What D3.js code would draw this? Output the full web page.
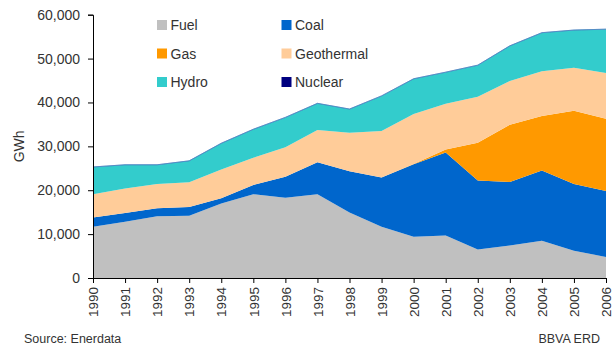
<!DOCTYPE html>
<html>
<head>
<meta charset="utf-8">
<script src="https://cdn.jsdelivr.net/npm/d3@7"></script>
<style>
  html, body { margin: 0; padding: 0; background: #fff; }
  svg { display: block; font-family: "Liberation Sans", Arial, sans-serif; }
</style>
</head>
<body>
<svg id="chart" width="613" height="345"></svg>
<script>
// Electricity generation by source, GWh
const years      = [1990, 1991, 1992, 1993, 1994, 1995, 1996, 1997, 1998, 1999, 2000, 2001, 2002, 2003, 2004, 2005, 2006];
const fuel       = [11700, 12800, 14100, 14200, 17000, 19100, 18300, 19100, 14900, 11700, 9400, 9700, 6500, 7400, 8500, 6200, 4800];
const coal       = [2100, 2000, 1800, 2000, 1200, 2100, 4800, 7300, 9400, 11200, 16500, 18900, 15700, 14500, 16000, 15200, 15000];
const gas        = [0, 0, 0, 0, 0, 0, 0, 0, 0, 0, 100, 700, 8600, 13000, 12400, 16700, 16500];
const geothermal = [5300, 5600, 5500, 5600, 6500, 6200, 6700, 7300, 8800, 10600, 11400, 10400, 10500, 10000, 10200, 9800, 10400];
const hydro      = [6200, 5400, 4400, 4900, 6000, 6500, 6800, 6100, 5400, 8000, 8000, 7200, 7200, 8000, 8800, 8600, 10000];
const nuclear    = [0, 0, 0, 0, 0, 0, 0, 0, 0, 0, 0, 0, 0, 0, 0, 0, 0];

const yTicks = [0, 10000, 20000, 30000, 40000, 50000, 60000];

const seriesKeys = ["Fuel", "Coal", "Gas", "Geothermal", "Hydro", "Nuclear"];
const seriesValues = [fuel, coal, gas, geothermal, hydro, nuclear];
const colors = {
  Fuel: "#c0c0c0",
  Coal: "#0066cc",
  Gas: "#ff9900",
  Geothermal: "#ffcc99",
  Hydro: "#33cccc",
  Nuclear: "#000080"
};

const rows = years.map((yr, i) => {
  const r = { year: yr };
  seriesKeys.forEach((k, j) => { r[k] = seriesValues[j][i]; });
  return r;
});

const svg = d3.select("#chart");
const margin = { left: 93, right: 7, top: 14.7, bottom: 67 };
const W = 613, H = 345;

const x = d3.scaleLinear()
  .domain([years[0], years[years.length - 1]])
  .range([margin.left, W - margin.right]);
const y = d3.scaleLinear()
  .domain([0, 60000])
  .range([H - margin.bottom, margin.top]);

const stacked = d3.stack().keys(seriesKeys)(rows);

const area = d3.area()
  .x(d => x(d.data.year))
  .y0(d => y(d[0]))
  .y1(d => y(d[1]));

svg.append("g")
  .selectAll("path")
  .data(stacked)
  .join("path")
  .attr("d", area)
  .attr("fill", d => colors[d.key])
  .attr("stroke", d => d.key === "Nuclear" ? "#4a7fc0" : "none")
  .attr("stroke-width", d => d.key === "Nuclear" ? 0.8 : 0)
  .attr("stroke-opacity", 0.8);

// Y axis
const yAxis = svg.append("g")
  .attr("transform", `translate(${margin.left},0)`)
  .call(d3.axisLeft(y).tickValues(yTicks).tickFormat(d3.format(",")).tickSizeOuter(0).tickSize(5).tickPadding(8));
yAxis.select(".domain").attr("stroke", "#000");
yAxis.selectAll(".tick line").attr("stroke", "#000");
yAxis.selectAll("text")
  .attr("fill", "#333")
  .style("font-size", "14px");

// X axis
const xAxis = svg.append("g")
  .attr("transform", `translate(0,${y(0)})`)
  .call(d3.axisBottom(x).tickValues(years).tickFormat(d3.format("d")).tickSizeOuter(0).tickSize(5));
xAxis.select(".domain").attr("stroke", "#000");
xAxis.selectAll(".tick line").attr("stroke", "#000");
xAxis.selectAll("text")
  .attr("fill", "#333")
  .style("font-size", "13.5px")
  .attr("text-anchor", "end")
  .attr("transform", "rotate(-90)")
  .attr("x", -9)
  .attr("y", 0)
  .attr("dy", "0.35em");

// Y axis title
svg.append("text")
  .attr("transform", `translate(24,${(y(0) + y(60000)) / 2}) rotate(-90)`)
  .attr("text-anchor", "middle")
  .attr("fill", "#333")
  .style("font-size", "14px")
  .text("GWh");

// Legend, two columns by three rows
const legend = svg.append("g");
seriesKeys.forEach((k, i) => {
  const col = i % 2, row = Math.floor(i / 2);
  const lx = 157 + col * 124.5, ly = 20 + row * 28.5;
  legend.append("rect")
    .attr("x", lx).attr("y", ly)
    .attr("width", 10).attr("height", 10)
    .attr("fill", colors[k]);
  legend.append("text")
    .attr("x", lx + 13.5).attr("y", ly + 10)
    .attr("fill", "#333")
    .style("font-size", "14px")
    .text(k);
});

// Footer
svg.append("text")
  .attr("x", 24).attr("y", 343)
  .attr("fill", "#333")
  .style("font-size", "12.5px")
  .text("Source: Enerdata");
svg.append("text")
  .attr("x", 600).attr("y", 343)
  .attr("text-anchor", "end")
  .attr("fill", "#333")
  .style("font-size", "12.5px")
  .text("BBVA ERD");
</script>
</body>
</html>
